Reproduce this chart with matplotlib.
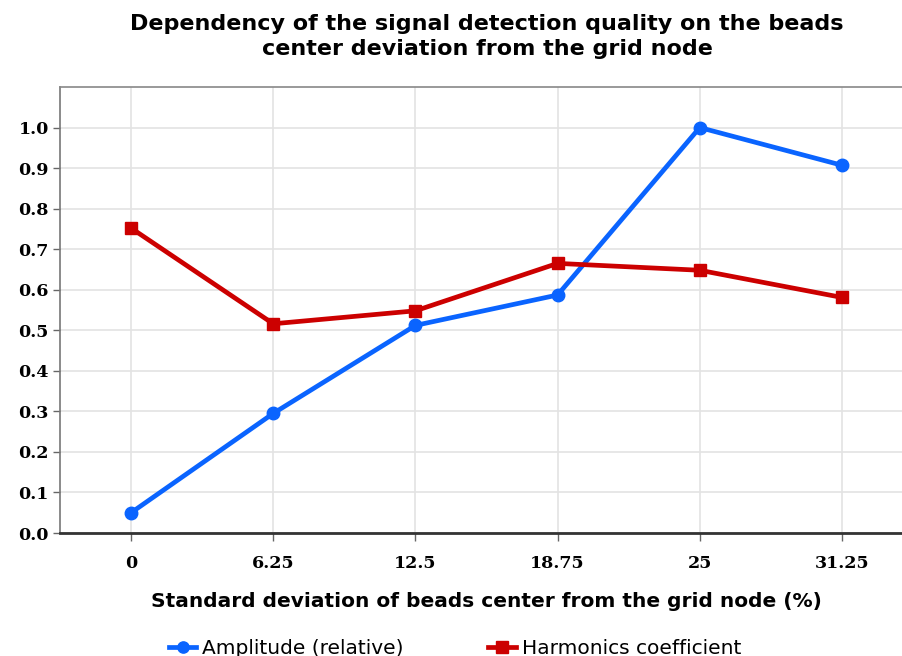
import matplotlib
matplotlib.use('Agg')
import matplotlib.pyplot as plt

# x categories (standard deviation, %)
deviation = [0, 6.25, 12.5, 18.75, 25, 31.25]
tick_labels = ['0', '6.25', '12.5', '18.75', '25', '31.25']

amplitude = [0.05, 0.295, 0.512, 0.587, 1.0, 0.907]
harmonics = [0.752, 0.516, 0.548, 0.665, 0.648, 0.581]

fig = plt.figure(figsize=(9.03, 6.56), dpi=100)
ax = fig.add_axes([60 / 903, 123 / 656, 853 / 903, 446 / 656])

ax.plot(deviation, amplitude, color='#0a64ff', linewidth=3.4, marker='o',
        markersize=9, label='Amplitude (relative)', zorder=3)
ax.plot(deviation, harmonics, color='#cc0000', linewidth=3.4, marker='s',
        markersize=9, label='Harmonics coefficient', zorder=3)

ax.set_xlim(-3.125, 34.375)
ax.set_ylim(0, 1.1)
ax.set_xticks(deviation)
ax.set_xticklabels(tick_labels, family='DejaVu Serif', fontweight='bold', fontsize=12.6)
ax.set_yticks([i / 10 for i in range(11)])
ax.set_yticklabels([f'{i / 10:.1f}' for i in range(11)],
                   family='DejaVu Serif', fontweight='bold', fontsize=12.6)
ax.tick_params(axis='x', length=6, width=1, color='#666666', pad=10)
ax.tick_params(axis='y', length=5, width=1, color='#666666', pad=3)

ax.grid(True, color='#e3e3e3', linewidth=1.2)
ax.set_axisbelow(True)
ax.spines['left'].set_color('#777777')
ax.spines['left'].set_linewidth(1.2)
ax.spines['top'].set_color('#888888')
ax.spines['top'].set_linewidth(1.2)
ax.spines['bottom'].set_color('#333333')
ax.spines['bottom'].set_linewidth(2)
ax.spines['right'].set_visible(False)

ax.set_xlabel('Standard deviation of beads center from the grid node (%)',
              fontsize=14.5, fontweight='bold', labelpad=14)
fig.suptitle('Dependency of the signal detection quality on the beads\n'
             'center deviation from the grid node',
             fontsize=16, fontweight='bold', x=487 / 903, y=0.978, linespacing=1.3)

fig.legend(loc='lower center', bbox_to_anchor=(455 / 903, -0.03), ncol=2,
           frameon=False, fontsize=14.5, handlelength=1.35, columnspacing=4.2,
           handletextpad=0.3, markerscale=0.9)

fig.savefig('out.png', dpi=100)
